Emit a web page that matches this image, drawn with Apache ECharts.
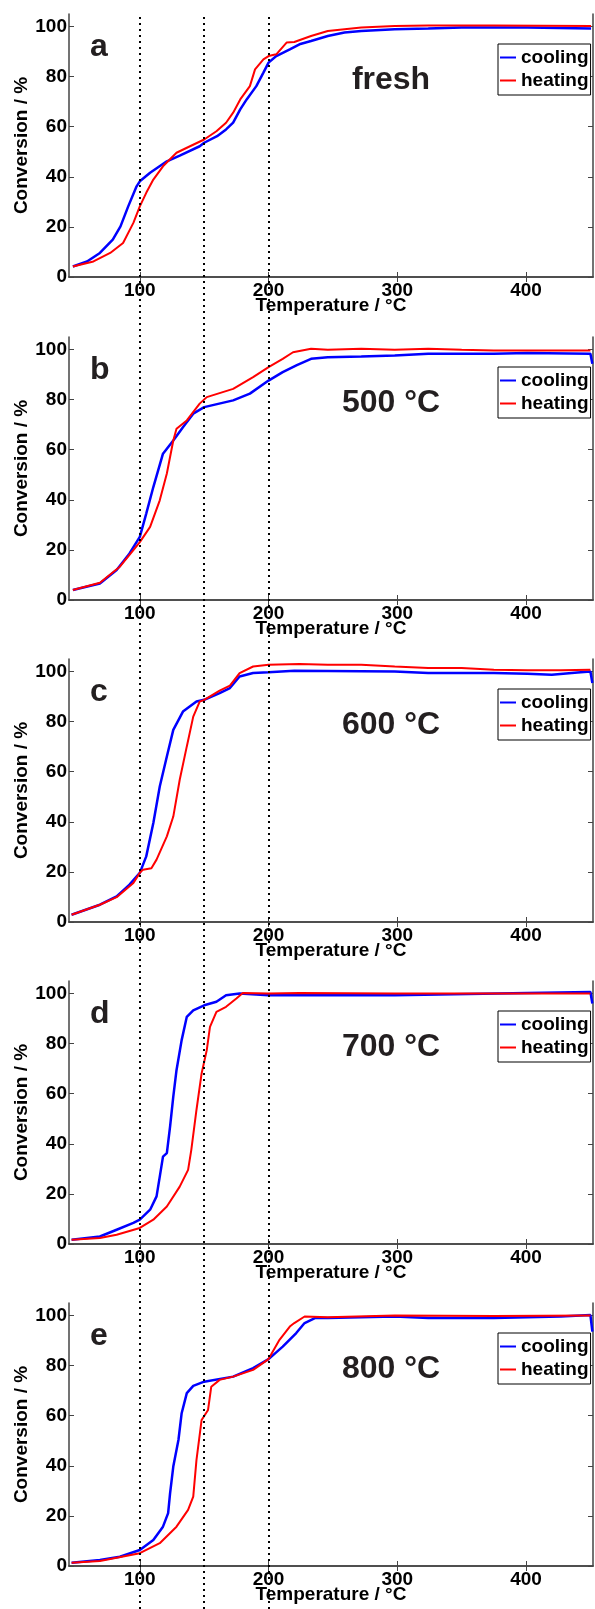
<!DOCTYPE html>
<html>
<head>
<meta charset="utf-8">
<script src="https://cdn.jsdelivr.net/npm/echarts@6/dist/echarts.min.js"></script>
<style>
  html, body { margin: 0; padding: 0; background: #fff; }
  #chart { width: 595px; height: 1609px; }
</style>
</head>
<body>
<div id="chart"></div>
<script>
// axis ticks / guides
const xTicks = [100, 200, 300, 400];
const yTicks = [0, 20, 40, 60, 80, 100];
const guideTemps = [100, 150, 200];
const seriesNames = ["cooling", "heating"];
const panelLetters = ["a", "b", "c", "d", "e"];
const panelLabels = ["fresh", "500 °C", "600 °C", "700 °C", "800 °C"];

// [temperature, conversion]
const freshCooling = [[48, 4.2], [59, 6.2], [69, 9.6], [79, 14.9], [85, 20.2], [91, 28.2], [97.5, 36.2], [100, 38.2], [108, 41.6], [121, 46.2], [131, 48.5], [146.5, 52.2], [150, 53.6], [160, 56.2], [167, 58.9], [172.5, 61.6], [178, 66.9], [183, 70.9], [190.5, 76.2], [196, 81.6], [200, 85.6], [206, 88.2], [216.5, 90.9], [224, 92.9], [233, 94.2], [246, 96.2], [259, 97.6], [272, 98.2], [298, 98.9], [324, 99.2], [350, 99.6], [375, 99.6], [401, 99.6], [450.5, 99.2]];
const freshHeating = [[48, 4.2], [64, 6.2], [77, 9.6], [87, 13.6], [95, 21.6], [100, 28.2], [105, 33.6], [110.5, 38.9], [118, 44.2], [128.5, 49.6], [139, 52.2], [150, 54.9], [159.5, 58.2], [167, 61.6], [172.5, 65.6], [178, 70.9], [185.5, 76.2], [189.5, 82.9], [196, 86.9], [200, 88.2], [206, 88.9], [214, 93.6], [220, 93.8], [233, 96.2], [246, 98.2], [272, 99.6], [298, 100.2], [324, 100.4], [375, 100.4], [450.5, 100.2]];

const c500Cooling = [[48, 4.0], [69, 6.6], [82, 12], [92, 18.6], [100, 25.2], [105, 34.5], [110.5, 45.1], [118, 58.4], [126, 63.7], [133.5, 69], [141.5, 74.4], [150, 77], [172.5, 79.7], [185.5, 82.4], [200, 87.6], [211, 91], [222, 93.8], [233, 96.3], [246, 96.9], [272, 97.2], [298, 97.6], [324, 98.3], [375, 98.3], [401, 98.6], [450, 98.3], [451.5, 94.3]];
const c500Heating = [[48, 4.0], [69, 6.9], [84.5, 13.3], [95, 19.9], [100, 23.1], [108, 29.2], [115.5, 39.8], [121, 50.5], [126, 63.7], [128.5, 68.4], [136.5, 71.7], [146.5, 78.4], [152, 81], [172.5, 84.3], [188, 89], [200, 93], [211, 96.3], [219, 98.9], [233, 100.3], [246, 99.9], [272, 100.3], [298, 99.9], [324, 100.3], [350, 99.9], [375, 99.6], [450, 99.6]];

const c600Cooling = [[47, 2.9], [69, 6.9], [82, 10.2], [92, 14.9], [100, 19.6], [105, 26.2], [110.5, 39.5], [115.5, 54.1], [121, 66.1], [126, 76.7], [133.5, 84], [144, 88], [150, 88.7], [162, 91.4], [170, 93.4], [177.5, 98], [188, 99.4], [200, 99.7], [220, 100.3], [298, 100], [324, 99.4], [375, 99.4], [401, 99.1], [420, 98.7], [440, 99.6], [450, 100], [451.5, 95.4]];
const c600Heating = [[47, 2.9], [69, 6.9], [82, 9.9], [95, 15.6], [100, 19.6], [102.5, 20.9], [109, 21.5], [113, 24.9], [121, 34.2], [126, 42.1], [131, 56.8], [136.5, 70.1], [141.5, 82], [146.5, 88], [150, 88.7], [162, 92.4], [170, 94.4], [177.5, 99.4], [188, 102], [200, 102.7], [224, 103], [246, 102.7], [272, 102.7], [298, 102], [324, 101.4], [350, 101.4], [375, 100.7], [401, 100.5], [427, 100.5], [450, 100.7]];

const c700Cooling = [[47, 1.7], [69, 3], [82, 5.7], [95, 8.4], [100, 9.7], [108, 13.7], [113, 19], [115.5, 26.9], [118, 34.9], [121, 36.3], [123.5, 46.9], [126, 58.8], [128.5, 69.4], [132.5, 81.4], [136.5, 90.7], [141.5, 93.3], [150, 95.3], [159.5, 96.7], [167, 99.3], [177.5, 100], [200, 99.3], [224, 99.3], [298, 99.3], [401, 100.2], [450, 100.6], [451.5, 96]];
const c700Heating = [[47, 1.7], [69, 2.4], [82, 3.7], [100, 6.4], [110.5, 9.7], [121, 15], [131, 22.9], [137.5, 29.6], [140, 37.6], [144, 53.5], [148, 68.1], [152, 77.4], [154.5, 86.7], [159.5, 92.7], [167, 94.7], [175, 98], [180, 100.2], [200, 100], [224, 100.2], [298, 100], [450, 100]];

const c800Cooling = [[47, 1.3], [69, 2.4], [84.5, 3.7], [100, 6.4], [110.5, 10.4], [118, 15.7], [122, 21.1], [123.5, 29], [126, 39.7], [130, 50.3], [132.5, 61], [136.5, 69], [141.5, 71.9], [150, 73.6], [172.5, 75.6], [188, 79], [200, 82.6], [211, 87.6], [221.5, 93], [228, 97], [236, 99], [246, 99], [298, 99.6], [324, 99], [375, 99], [427, 99.6], [450, 100.2], [451.5, 93.6]];
const c800Heating = [[47, 1.3], [69, 2], [100, 5.1], [115.5, 9.1], [128.5, 15.7], [137.5, 22.4], [141.5, 27.7], [144, 42.3], [148, 58.3], [153, 62.3], [155.5, 71.6], [162, 74.3], [172.5, 75.6], [188, 78.3], [200, 82.6], [208.5, 90.3], [216.5, 95.6], [220, 97], [228, 99.6], [246, 99.3], [298, 100], [375, 99.8], [450, 100]];

const panels = [
  [freshCooling, freshHeating],
  [c500Cooling, c500Heating],
  [c600Cooling, c600Heating],
  [c700Cooling, c700Heating],
  [c800Cooling, c800Heating]
];

const FONT = '"Liberation Sans", Arial, Helvetica, sans-serif';
const frameColor = "#444";
const xMin = 45, xMax = 452;
const panelTops = [14, 337, 659, 981, 1303];
const panelHeight = 263;
const gridLeft = 69, gridRight = 2;

let grid = [];
let xAxis = [];
let yAxis = [];
let series = [];
let legend = [];
let graphic = [];

panelTops.forEach((top, i) => {
  grid.push({ left: gridLeft, right: gridRight, top: top, height: panelHeight, outerBoundsMode: "none" });
  // bottom axis with labels
  xAxis.push({
    type: "value", gridIndex: i, min: xMin, max: xMax, position: "bottom",
    name: "Temperature / °C", nameLocation: "middle", nameGap: 19, nameMoveOverlap: false,
    nameTextStyle: { fontFamily: FONT, fontWeight: "bold", fontSize: 19, color: "#000" },
    axisLine: { lineStyle: { color: frameColor, width: 1.5 } },
    axisTick: { inside: true, length: 5, customValues: xTicks, lineStyle: { color: frameColor } },
    axisLabel: { customValues: xTicks, margin: 4, fontFamily: FONT, fontWeight: "bold", fontSize: 19, color: "#000" },
    splitLine: { show: false }
  });
  // top mirror
  xAxis.push({
    type: "value", gridIndex: i, min: xMin, max: xMax, position: "top",
    axisLine: { lineStyle: { color: frameColor, width: 1.5 } },
    axisTick: { inside: true, length: 5, customValues: xTicks, lineStyle: { color: frameColor } },
    axisLabel: { show: false },
    splitLine: { show: false }
  });
  yAxis.push({
    type: "value", gridIndex: i, min: 0, max: 105, position: "left",
    name: "Conversion / %", nameLocation: "middle", nameGap: 38, nameMoveOverlap: false,
    nameTextStyle: { fontFamily: FONT, fontWeight: "bold", fontSize: 19, color: "#000" },
    axisLine: { show: true, lineStyle: { color: frameColor, width: 1.5 } },
    axisTick: { show: true, inside: true, length: 5, customValues: yTicks, lineStyle: { color: frameColor } },
    axisLabel: { customValues: yTicks, margin: 2, fontFamily: FONT, fontWeight: "bold", fontSize: 19, color: "#000" },
    splitLine: { show: false }
  });
  yAxis.push({
    type: "value", gridIndex: i, min: 0, max: 105, position: "right",
    axisLine: { show: true, lineStyle: { color: frameColor, width: 1.5 } },
    axisTick: { show: true, inside: true, length: 5, customValues: yTicks, lineStyle: { color: frameColor } },
    axisLabel: { show: false },
    splitLine: { show: false }
  });

  const colors = ["#0000ff", "#ff0000"];
  const widths = [2.5, 2];
  panels[i].forEach((d, k) => {
    series.push({
      name: seriesNames[k],
      type: "line",
      xAxisIndex: i * 2,
      yAxisIndex: i * 2,
      data: d,
      showSymbol: false,
      symbol: "none",
      color: colors[k],
      lineStyle: { color: colors[k], width: widths[k] },
      z: 2 + k
    });
  });

  legend.push({
    orient: "vertical",
    left: 498,
    top: top + 30,
    data: seriesNames,
    icon: "rect",
    itemWidth: 16,
    itemHeight: 2,
    itemGap: 4,
    padding: [4, 2, 5, 2],
    borderColor: "#000",
    borderWidth: 1,
    backgroundColor: "#fff",
    selectedMode: false,
    textStyle: { fontFamily: FONT, fontWeight: "bold", fontSize: 19, color: "#000" }
  });

  graphic.push({
    type: "text", x: 90, y: top + 33, z: 20,
    style: { text: panelLetters[i], font: "bold 32px " + FONT, fill: "#231f20", align: "left", verticalAlign: "middle" }
  });
  graphic.push({
    type: "text", x: 391, y: top + 66, z: 20,
    style: { text: panelLabels[i], font: "bold 32px " + FONT, fill: "#231f20", align: "center", verticalAlign: "middle" }
  });
});

// overlay grid for the dotted guide lines through all panels
const ov = panelTops.length;
grid.push({ left: gridLeft, right: gridRight, top: 14, bottom: 0, outerBoundsMode: "none" });
xAxis.push({ type: "value", gridIndex: ov, min: xMin, max: xMax, show: false });
yAxis.push({ type: "value", gridIndex: ov, min: 0, max: 1, show: false });
series.push({
  type: "line",
  xAxisIndex: xAxis.length - 1,
  yAxisIndex: yAxis.length - 1,
  data: [[xMin, 0.5]],
  showSymbol: false,
  symbol: "none",
  lineStyle: { opacity: 0 },
  z: 10,
  markLine: {
    silent: true,
    symbol: ["none", "none"],
    label: { show: false },
    lineStyle: { color: "#000", width: 2, type: [2, 4] },
    data: guideTemps.map(t => ({ xAxis: t }))
  }
});

let myChart = echarts.init(document.getElementById("chart"));
myChart.setOption({
  animation: false,
  backgroundColor: "#fff",
  grid: grid,
  xAxis: xAxis,
  yAxis: yAxis,
  legend: legend,
  graphic: graphic,
  series: series
});
</script>
</body>
</html>
